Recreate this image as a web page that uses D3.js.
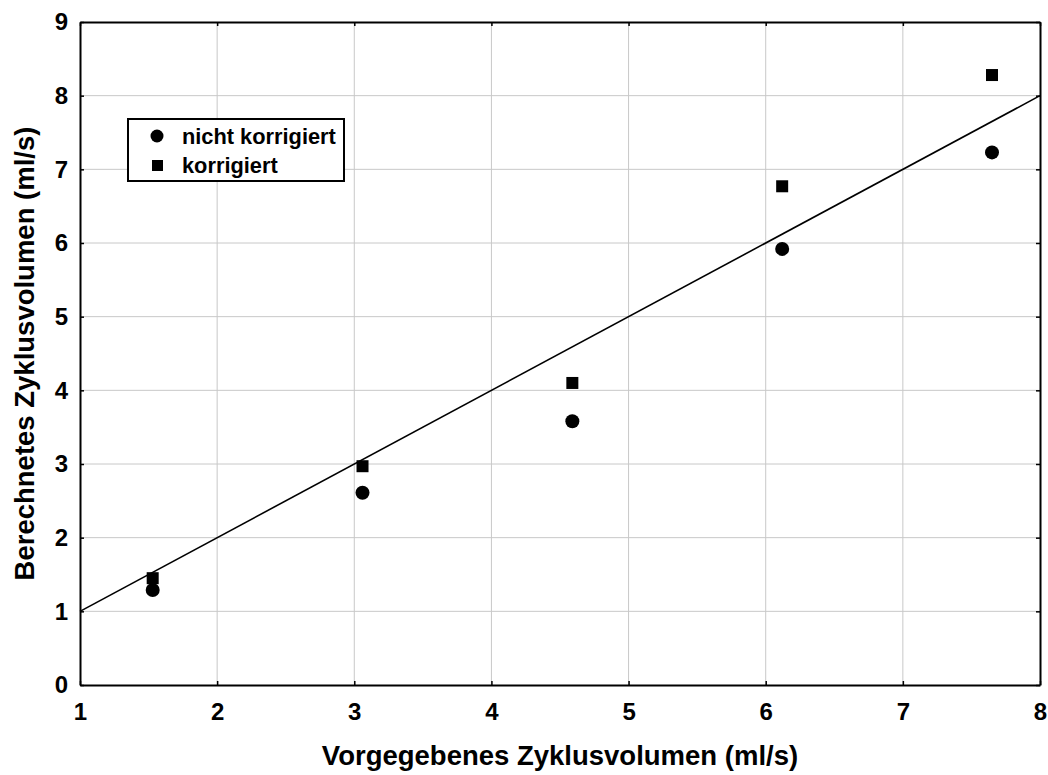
<!DOCTYPE html>
<html>
<head>
<meta charset="utf-8">
<script src="https://cdn.jsdelivr.net/npm/d3@7"></script>
<style>
  html, body { margin: 0; padding: 0; background: #fff; }
  svg { display: block; font-family: Arial, "Liberation Sans", sans-serif; }
</style>
</head>
<body>
<svg id="chart" width="1048" height="775"></svg>
<script>
// Vorgegebenes vs. berechnetes Zyklusvolumen
const xValues = [1.53, 3.06, 4.59, 6.12, 7.65];
const nichtKorrigiert = [1.29, 2.61, 3.58, 5.92, 7.23];
const korrigiert = [1.45, 2.97, 4.10, 6.77, 8.28];
const xTicks = [1, 2, 3, 4, 5, 6, 7, 8];
const yTicks = [0, 1, 2, 3, 4, 5, 6, 7, 8, 9];
const identityLine = [[1, 1], [8, 8]];
const legendLabels = ["nicht korrigiert", "korrigiert"];

const svg = d3.select("#chart");
const margin = { left: 80, top: 22, right: 8, bottom: 90 };
const W = 1048, H = 775;
const x = d3.scaleLinear().domain([1, 8]).range([margin.left, W - margin.right]);
const y = d3.scaleLinear().domain([0, 9]).range([H - margin.bottom, margin.top]);
const fmt = d3.format("d");

// Gitterlinien
svg.append("g").selectAll("line").data(xTicks.slice(1, -1)).join("line")
  .attr("x1", d => x(d)).attr("x2", d => x(d))
  .attr("y1", y(0)).attr("y2", y(9))
  .attr("stroke", "#c8c8c8").attr("stroke-width", 1);
svg.append("g").selectAll("line").data(yTicks.slice(1, -1)).join("line")
  .attr("x1", x(1)).attr("x2", x(8))
  .attr("y1", d => y(d)).attr("y2", d => y(d))
  .attr("stroke", "#c8c8c8").attr("stroke-width", 1);

// Achsen mit Ticks nach innen
const fontAxis = "bold 24px Arial, 'Liberation Sans', sans-serif";
const bottomAxis = svg.append("g").attr("transform", `translate(0,${y(0)})`)
  .call(d3.axisBottom(x).tickValues(xTicks).tickFormat(fmt).tickSizeInner(-4).tickSizeOuter(0).tickPadding(18));
const topAxis = svg.append("g").attr("transform", `translate(0,${y(9)})`)
  .call(d3.axisTop(x).tickValues(xTicks).tickSizeInner(-4).tickSizeOuter(0).tickFormat(""));
const leftAxis = svg.append("g").attr("transform", `translate(${x(1)},0)`)
  .call(d3.axisLeft(y).tickValues(yTicks).tickFormat(fmt).tickSizeInner(-4).tickSizeOuter(0).tickPadding(12));
const rightAxis = svg.append("g").attr("transform", `translate(${x(8)},0)`)
  .call(d3.axisRight(y).tickValues(yTicks).tickSizeInner(-4).tickSizeOuter(0).tickFormat(""));

[bottomAxis, topAxis, leftAxis, rightAxis].forEach(g => {
  g.select(".domain").attr("stroke", "#000").attr("stroke-width", 2);
  g.selectAll(".tick line").attr("stroke", "#000").attr("stroke-width", 1.5);
  g.selectAll(".tick text").style("font", fontAxis).attr("fill", "#000");
});

// Winkelhalbierende y = x
svg.append("line")
  .attr("x1", x(identityLine[0][0])).attr("y1", y(identityLine[0][1]))
  .attr("x2", x(identityLine[1][0])).attr("y2", y(identityLine[1][1]))
  .attr("stroke", "#000").attr("stroke-width", 1.6);

// Messpunkte
svg.append("g").selectAll("circle").data(xValues).join("circle")
  .attr("cx", (d) => x(d)).attr("cy", (d, i) => y(nichtKorrigiert[i]))
  .attr("r", 7).attr("fill", "#000");
svg.append("g").selectAll("rect").data(xValues).join("rect")
  .attr("x", d => x(d) - 6).attr("y", (d, i) => y(korrigiert[i]) - 6)
  .attr("width", 12).attr("height", 12).attr("fill", "#000");

// Legende
const leg = svg.append("g");
leg.append("rect").attr("x", 128).attr("y", 119).attr("width", 216).attr("height", 62)
  .attr("fill", "#fff").attr("stroke", "#000").attr("stroke-width", 2);
leg.append("circle").attr("cx", 157).attr("cy", 136).attr("r", 6.5).attr("fill", "#000");
leg.append("rect").attr("x", 152).attr("y", 160).attr("width", 11).attr("height", 11).attr("fill", "#000");
leg.selectAll("text").data(legendLabels).join("text")
  .attr("x", 182).attr("y", (d, i) => 144 + i * 29)
  .style("font", "bold 21.8px Arial, 'Liberation Sans', sans-serif")
  .text(d => d);

// Achsentitel
svg.append("text").attr("x", (x(1) + x(8)) / 2).attr("y", 765)
  .attr("text-anchor", "middle")
  .style("font", "bold 27.5px Arial, 'Liberation Sans', sans-serif")
  .text("Vorgegebenes Zyklusvolumen (ml/s)");
svg.append("text")
  .attr("transform", `translate(34,${(y(0) + y(9)) / 2}) rotate(-90)`)
  .attr("text-anchor", "middle")
  .style("font", "bold 27.5px Arial, 'Liberation Sans', sans-serif")
  .text("Berechnetes Zyklusvolumen (ml/s)");
</script>
</body>
</html>
